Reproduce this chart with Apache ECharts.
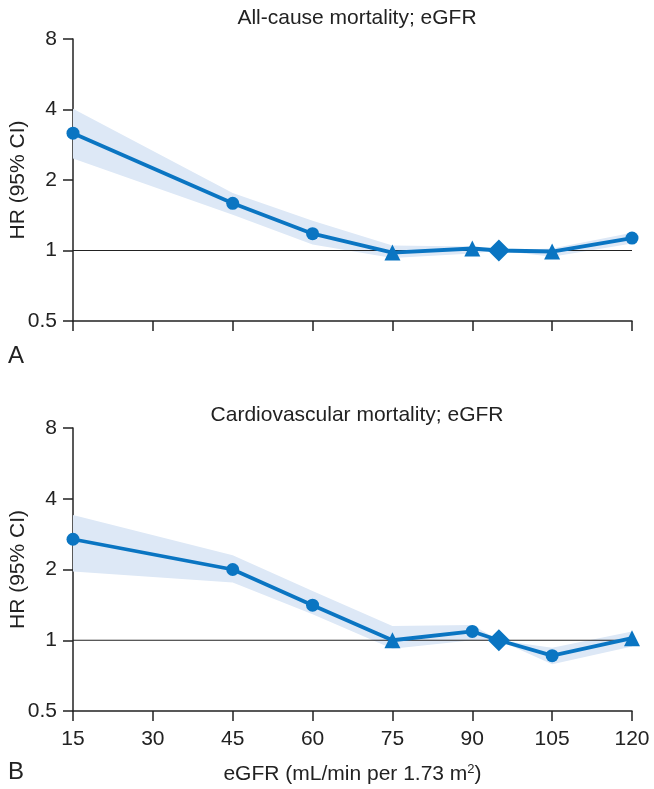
<!DOCTYPE html>
<html lang="en">
<head>
    <meta charset="UTF-8">
    <title>HR by eGFR</title>
    <style>
        * { margin: 0; padding: 0; box-sizing: border-box; }
        body { background: #fff; }
        #chart { width: 654px; height: 789px; }
    </style>
</head>
<body>
    <div id="chart"></div>

    <script src="https://cdn.jsdelivr.net/npm/echarts@6/dist/echarts.min.js"></script>
    <script>
        // eGFR points (mL/min per 1.73 m2); 95 is the reference (diamond)
        const egfr = [15, 45, 60, 75, 90, 95, 105, 120];
        const xTicks = [15, 30, 45, 60, 75, 90, 105, 120];
        const yTicks = [0.5, 1, 2, 4, 8];

        // A: all-cause mortality
        const allHR = [3.17, 1.59, 1.18, 0.98, 1.02, 1, 0.99, 1.13];
        const allLo = [2.47, 1.42, 1.06, 0.93, 0.97, 1, 0.94, 1.07];
        const allHi = [4.03, 1.76, 1.34, 1.05, 1.04, 1, 1.02, 1.19];
        const allSym = ['circle', 'circle', 'circle', 'triangle', 'triangle', 'diamond', 'triangle', 'circle'];

        // B: cardiovascular mortality
        const cvHR = [2.69, 2.0, 1.41, 1.0, 1.09, 1, 0.86, 1.02];
        const cvLo = [1.96, 1.76, 1.29, 0.92, 1.0, 1, 0.79, 0.94];
        const cvHi = [3.41, 2.3, 1.62, 1.15, 1.16, 1, 0.93, 1.09];
        const cvSym = ['circle', 'circle', 'circle', 'triangle', 'circle', 'diamond', 'circle', 'triangle'];

        const BLUE = '#0a75c2';
        const BAND = '#dde8f6';
        const INK = '#222';
        const FONT = "'Liberation Sans', Arial, sans-serif";
        const FS = 21;

        const symSize = { circle: 13, triangle: 16, diamond: 22 };

        function xAxis(idx, showLabels) {
            return {
                type: 'value', gridIndex: idx, min: 15, max: 120, interval: 15,
                axisLine: { lineStyle: { color: INK, width: 1.5 } },
                axisTick: { length: 10, lineStyle: { color: INK, width: 1.5 } },
                axisLabel: {
                    show: showLabels, color: INK, fontSize: FS, fontFamily: FONT, margin: 18,
                    customValues: xTicks
                },
                splitLine: { show: false },
                name: showLabels ? 'eGFR (mL/min per 1.73 m{sup|2})' : '',
                nameLocation: 'middle', nameGap: 52, nameMoveOverlap: false,
                nameTextStyle: {
                    color: INK, fontSize: FS, fontFamily: FONT,
                    rich: { sup: { fontSize: 13, verticalAlign: 'top', padding: [0, 0, 9, 0], color: INK, fontFamily: FONT } }
                }
            };
        }

        function yAxis(idx) {
            return {
                type: 'log', logBase: 2, gridIndex: idx, min: 0.5, max: 8,
                axisLine: { show: true, lineStyle: { color: INK, width: 1.5 } },
                axisTick: { show: true, length: 10, lineStyle: { color: INK, width: 1.5 } },
                axisLabel: { color: INK, fontSize: FS, fontFamily: FONT, margin: 16, customValues: yTicks },
                splitLine: { show: false },
                name: 'HR (95% CI)', nameLocation: 'middle', nameGap: 44, nameMoveOverlap: false,
                nameTextStyle: { color: INK, fontSize: FS, fontFamily: FONT }
            };
        }

        function bandSeries(idx, lo, hi) {
            return {
                type: 'custom', xAxisIndex: idx, yAxisIndex: idx, z: 1,
                data: [0], silent: true,
                renderItem: (params, api) => {
                    const pts = [];
                    egfr.forEach((x, i) => pts.push(api.coord([x, hi[i]])));
                    for (let i = egfr.length - 1; i >= 0; i--) pts.push(api.coord([egfr[i], lo[i]]));
                    return { type: 'polygon', shape: { points: pts }, style: { fill: BAND } };
                }
            };
        }

        function refLine(idx) {
            return {
                type: 'line', xAxisIndex: idx, yAxisIndex: idx, z: 2,
                data: [[15, 1], [120, 1]], symbol: 'none', silent: true,
                lineStyle: { color: INK, width: 1.2 }
            };
        }

        function hrSeries(idx, hr, sym) {
            return {
                type: 'line', xAxisIndex: idx, yAxisIndex: idx, z: 3,
                data: egfr.map((x, i) => ({
                    value: [x, hr[i]], symbol: sym[i], symbolSize: symSize[sym[i]]
                })),
                showAllSymbol: true,
                lineStyle: { color: BLUE, width: 3.8 },
                itemStyle: { color: BLUE, opacity: 1 }
            };
        }

        const titleStyle = { fontSize: FS, fontWeight: 'normal', color: INK, fontFamily: FONT };
        const panelStyle = { fontSize: 24, fontWeight: 'normal', color: INK, fontFamily: FONT };

        const chart = echarts.init(document.getElementById('chart'));
        chart.setOption({
            animation: false,
            textStyle: { fontFamily: FONT },
            title: [
                { text: 'All-cause mortality; eGFR', left: 352, top: 3, textAlign: 'center', textStyle: titleStyle },
                { text: 'Cardiovascular mortality; eGFR', left: 352, top: 400, textAlign: 'center', textStyle: titleStyle },
                { text: 'A', left: 3, top: 339, textStyle: panelStyle },
                { text: 'B', left: 3, top: 755, textStyle: panelStyle }
            ],
            grid: [
                { left: 73, top: 39, width: 559, height: 282, containLabel: false, outerBoundsMode: 'none' },
                { left: 73, top: 428, width: 559, height: 283, containLabel: false, outerBoundsMode: 'none' }
            ],
            xAxis: [xAxis(0, false), xAxis(1, true)],
            yAxis: [yAxis(0), yAxis(1)],
            series: [
                bandSeries(0, allLo, allHi), refLine(0), hrSeries(0, allHR, allSym),
                bandSeries(1, cvLo, cvHi), refLine(1), hrSeries(1, cvHR, cvSym)
            ]
        });
    </script>
</body>
</html>
